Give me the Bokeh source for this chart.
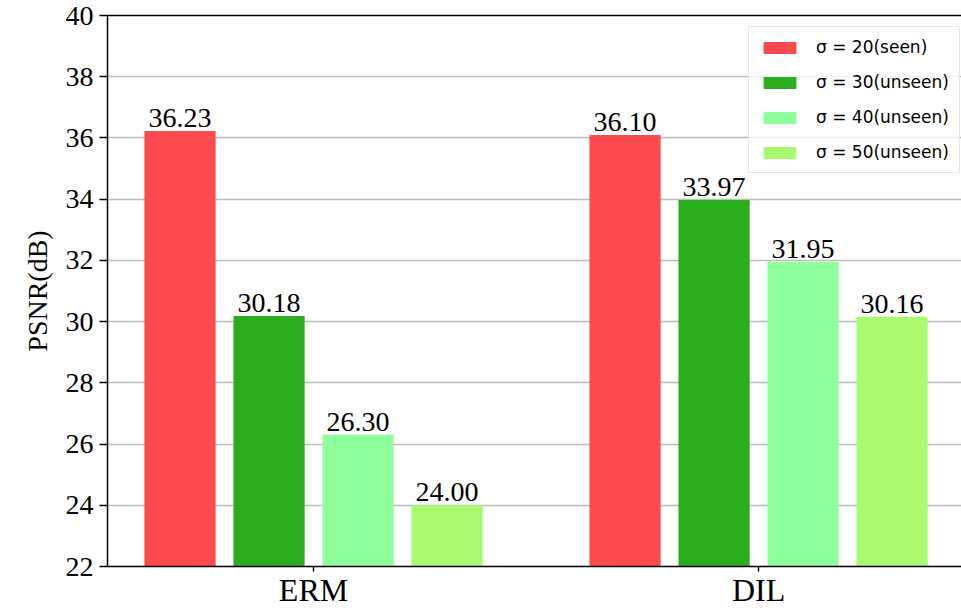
from bokeh.plotting import figure
from bokeh.models import Range1d, FixedTicker, LinearAxis, ColumnDataSource, Legend, LegendItem
from bokeh.core.properties import value
from bokeh.embed import file_html
from bokeh.resources import INLINE

# ---- data ----
groups = ["ERM", "DIL"]
series_labels = ["σ = 20(seen)", "σ = 30(unseen)", "σ = 40(unseen)", "σ = 50(unseen)"]
sigma20 = [36.23, 36.10]
sigma30 = [30.18, 33.97]
sigma40 = [26.30, 31.95]
sigma50 = [24.00, 30.16]
yticks = [22, 24, 26, 28, 30, 32, 34, 36, 38, 40]

series = [sigma20, sigma30, sigma40, sigma50]
colors = ["#fd4a4e", "#2aae20", "#8ffe9d", "#abf96e"]
offsets = [-0.3, -0.1, 0.1, 0.3]
bar_w = 0.16
serif = "Liberation Serif"

p = figure(width=961, height=610, output_backend="svg", toolbar_location=None,
           x_range=Range1d(-0.463, 1.456), y_range=Range1d(22, 40),
           min_border_left=107, min_border_right=0, min_border_top=15, min_border_bottom=42)
p.outline_line_color = None
p.background_fill_color = "white"
p.border_fill_color = "white"

items = []
for vals, col, off, lab in zip(series, colors, offsets, series_labels):
    src = ColumnDataSource(dict(x=[i + off for i in range(len(groups))], top=vals,
                                txt=["%.2f" % v for v in vals]))
    r = p.vbar(x="x", top="top", bottom=22, width=bar_w, source=src,
               fill_color=col, line_color=None)
    p.text(x="x", y="top", text="txt", source=src, text_align="center",
           text_baseline="bottom", y_offset=-4, text_font=value(serif),
           text_font_size="28px", text_color="black")
    items.append(LegendItem(label=lab, renderers=[r]))

# axes
p.xaxis.ticker = FixedTicker(ticks=list(range(len(groups))))
p.xaxis.major_label_overrides = {i: g for i, g in enumerate(groups)}
p.xaxis.major_label_text_font = serif
p.xaxis.major_label_text_font_size = "32px"
p.xaxis.major_label_text_color = "black"
p.xaxis.major_label_standoff = 0
p.xaxis.minor_tick_line_color = None
p.xaxis.major_tick_out = 5
p.xaxis.major_tick_in = 0
p.xaxis.axis_line_width = 1.5
p.xaxis.axis_line_color = "black"
p.xaxis.major_tick_line_width = 1.5
p.xaxis.major_tick_line_color = "black"

p.yaxis.ticker = FixedTicker(ticks=yticks)
p.yaxis.major_label_text_font = serif
p.yaxis.major_label_text_font_size = "28px"
p.yaxis.major_label_text_color = "black"
p.yaxis.major_label_standoff = 6
p.yaxis.minor_tick_line_color = None
p.yaxis.major_tick_out = 8
p.yaxis.major_tick_in = 0
p.yaxis.axis_line_width = 1.5
p.yaxis.axis_line_color = "black"
p.yaxis.major_tick_line_width = 1.5
p.yaxis.major_tick_line_color = "black"
p.yaxis.axis_label = "PSNR(dB)"
p.yaxis.axis_label_text_font = serif
p.yaxis.axis_label_text_font_size = "28px"
p.yaxis.axis_label_text_font_style = "normal"
p.yaxis.axis_label_text_color = "black"
p.yaxis.axis_label_standoff = 10

top_axis = LinearAxis(ticker=FixedTicker(ticks=[]), major_label_text_font_size="0px",
                      major_tick_line_color=None, minor_tick_line_color=None,
                      axis_line_width=1.5, axis_line_color="black")
top_axis.major_label_text_alpha = 0
p.add_layout(top_axis, "above")

p.xgrid.grid_line_color = None
p.ygrid.grid_line_color = "#bdbdbd"
p.ygrid.grid_line_width = 1.5

legend = Legend(items=items, location=(641, 393))
legend.label_text_font = "DejaVu Sans"
legend.label_text_font_size = "17px"
legend.label_text_color = "black"
legend.glyph_width = 41
legend.glyph_height = 15
legend.label_standoff = 16
legend.spacing = 15
legend.padding = 10
legend.margin = 0
legend.border_line_color = "#cccccc"
legend.border_line_width = 1.5
legend.background_fill_alpha = 0.8
p.add_layout(legend, "center")

open("out.html", "w").write(file_html(p, INLINE))
